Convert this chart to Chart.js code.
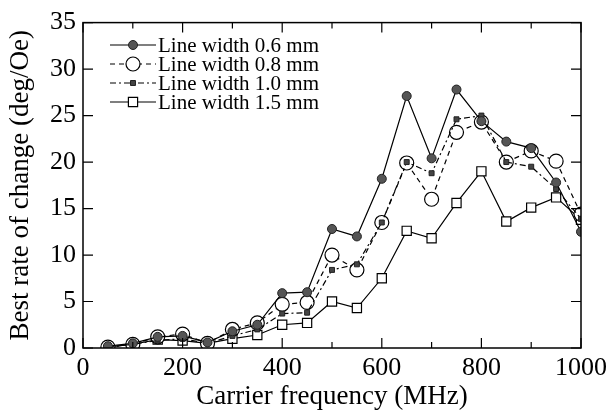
<!DOCTYPE html>
<html>
<head>
<meta charset="utf-8">
<script src="https://cdn.jsdelivr.net/npm/chart.js@4/dist/chart.umd.min.js"></script>
<style>
  html, body { margin: 0; padding: 0; background: #fff; }
  #wrap { width: 612px; height: 414px; }
</style>
</head>
<body>
<div id="wrap"><canvas id="chart" width="612" height="414"></canvas></div>
<script>
// Data
const freqs = [50, 100, 150, 200, 250, 300, 350, 400, 450, 500, 550, 600, 650, 700, 750, 800, 850, 900, 950, 1000];
const width06 = [0.2, 0.5, 1.2, 1.3, 0.6, 1.8, 2.5, 5.9, 6.0, 12.8, 12.0, 18.2, 27.1, 20.4, 27.8, 24.4, 22.2, 21.5, 17.8, 12.5];
const width08 = [0.1, 0.4, 1.2, 1.5, 0.5, 2.0, 2.7, 4.7, 4.9, 10.0, 8.4, 13.5, 19.9, 16.0, 23.2, 24.3, 20.0, 21.2, 20.1, 14.4];
const width10 = [0.1, 0.4, 0.8, 1.0, 0.5, 1.3, 2.0, 3.7, 3.8, 8.4, 9.0, 13.5, 20.0, 18.8, 24.6, 25.0, 20.0, 19.5, 17.1, 13.9];
const width15 = [0.1, 0.4, 0.9, 0.8, 0.5, 1.0, 1.4, 2.5, 2.7, 5.0, 4.3, 7.5, 12.6, 11.8, 15.6, 19.0, 13.6, 15.1, 16.2, 13.8];
const seriesLabels = ['Line width 0.6 mm', 'Line width 0.8 mm', 'Line width 1.0 mm', 'Line width 1.5 mm'];
const xTicks = [0, 200, 400, 600, 800, 1000];
const yTicks = [0, 5, 10, 15, 20, 25, 30, 35];

const serif = "'Liberation Serif', 'Times New Roman', serif";

function pts(ys) {
  return freqs.map((x, i) => ({ x: x, y: ys[i] }));
}

const datasets = [
  { label: seriesLabels[0], data: pts(width06), order: 0,
    borderColor: '#000', borderWidth: 1.2, borderDash: [],
    pointStyle: 'circle', pointRadius: 4.5, pointBackgroundColor: '#555', pointBorderColor: '#222', pointBorderWidth: 1 },
  { label: seriesLabels[1], data: pts(width08), order: 2,
    borderColor: '#000', borderWidth: 1.2, borderDash: [5, 4],
    pointStyle: 'circle', pointRadius: 7, pointBackgroundColor: '#fff', pointBorderColor: '#000', pointBorderWidth: 1.2 },
  { label: seriesLabels[2], data: pts(width10), order: 1,
    borderColor: '#000', borderWidth: 1.2, borderDash: [6, 3, 2, 3],
    pointStyle: 'rect', pointRadius: 3.5, pointBackgroundColor: '#444', pointBorderColor: '#222', pointBorderWidth: 1 },
  { label: seriesLabels[3], data: pts(width15), order: 3,
    borderColor: '#000', borderWidth: 1.2, borderDash: [],
    pointStyle: 'rect', pointRadius: 6.5, pointBackgroundColor: '#fff', pointBorderColor: '#000', pointBorderWidth: 1.2 }
];
datasets.forEach(d => { d.showLine = true; d.tension = 0; d.fill = false; });

// frame, inward ticks and the legend box drawn on top
const framePlugin = {
  id: 'frame',
  afterDraw(chart) {
    const ctx = chart.ctx;
    const a = chart.chartArea;
    const xs = chart.scales.x, ys = chart.scales.y;
    ctx.save();
    ctx.strokeStyle = '#000';
    ctx.lineWidth = 1.5;
    ctx.strokeRect(a.left, a.top, a.right - a.left, a.bottom - a.top);
    ctx.lineWidth = 1.2;
    ctx.beginPath();
    for (let v = 0; v <= 1000; v += 100) {
      const px = xs.getPixelForValue(v);
      const len = v % 200 === 0 ? 10 : 6;
      ctx.moveTo(px, a.bottom); ctx.lineTo(px, a.bottom - len);
      ctx.moveTo(px, a.top); ctx.lineTo(px, a.top + len);
    }
    yTicks.forEach(v => {
      const py = ys.getPixelForValue(v);
      ctx.moveTo(a.left, py); ctx.lineTo(a.left + 10, py);
      ctx.moveTo(a.right, py); ctx.lineTo(a.right - 10, py);
    });
    ctx.stroke();

    // legend
    const lx0 = 110, lx1 = 156, rowY = [45, 64, 83, 102];
    ctx.font = '21px ' + serif;
    ctx.textBaseline = 'middle';
    ctx.textAlign = 'left';
    chart.data.datasets.forEach((d, i) => {
      const y = rowY[i];
      const cx = (lx0 + lx1) / 2;
      ctx.setLineDash(d.borderDash);
      ctx.lineWidth = 1.2;
      ctx.strokeStyle = '#000';
      ctx.beginPath();
      ctx.moveTo(lx0, y); ctx.lineTo(lx1, y);
      ctx.stroke();
      ctx.setLineDash([]);
      ctx.fillStyle = d.pointBackgroundColor;
      ctx.strokeStyle = d.pointBorderColor;
      ctx.lineWidth = d.pointBorderWidth;
      ctx.beginPath();
      if (d.pointStyle === 'circle') {
        ctx.arc(cx, y, d.pointRadius, 0, Math.PI * 2);
      } else {
        const r = d.pointRadius * Math.SQRT1_2;
        ctx.rect(cx - r, y - r, 2 * r, 2 * r);
      }
      ctx.fill(); ctx.stroke();
      ctx.fillStyle = '#000';
      ctx.fillText(d.label, lx1 + 2, y + 1);
    });
    ctx.restore();
  }
};

new Chart(document.getElementById('chart'), {
  type: 'scatter',
  data: { datasets: datasets },
  options: {
    responsive: false,
    animation: false,
    layout: { padding: { top: 20, right: 29, left: 0, bottom: 0 } },
    plugins: { legend: { display: false }, tooltip: { enabled: false } },
    scales: {
      x: {
        type: 'linear', min: 0, max: 1000,
        grid: { display: false, drawTicks: false },
        border: { display: false },
        afterBuildTicks: s => { s.ticks = xTicks.map(v => ({ value: v })); },
        afterFit: s => { s.height = 66; },
        ticks: { color: '#000', padding: 5, maxRotation: 0, autoSkip: false,
                 callback: v => String(v), font: { family: serif, size: 26 } },
        title: { display: true, text: 'Carrier frequency (MHz)', color: '#000', padding: { top: 0, bottom: 1 },
                 font: { family: serif, size: 27 } }
      },
      y: {
        type: 'linear', min: 0, max: 35,
        grid: { display: false, drawTicks: false },
        border: { display: false },
        afterBuildTicks: s => { s.ticks = yTicks.map(v => ({ value: v })); },
        afterFit: s => { s.width = 83; },
        ticks: { color: '#000', padding: 7, autoSkip: false, font: { family: serif, size: 26 } },
        title: { display: true, text: 'Best rate of change (deg/Oe)', color: '#000', padding: { top: 5, bottom: 0 },
                 font: { family: serif, size: 27 } }
      }
    }
  },
  plugins: [framePlugin]
});
</script>
</body>
</html>
